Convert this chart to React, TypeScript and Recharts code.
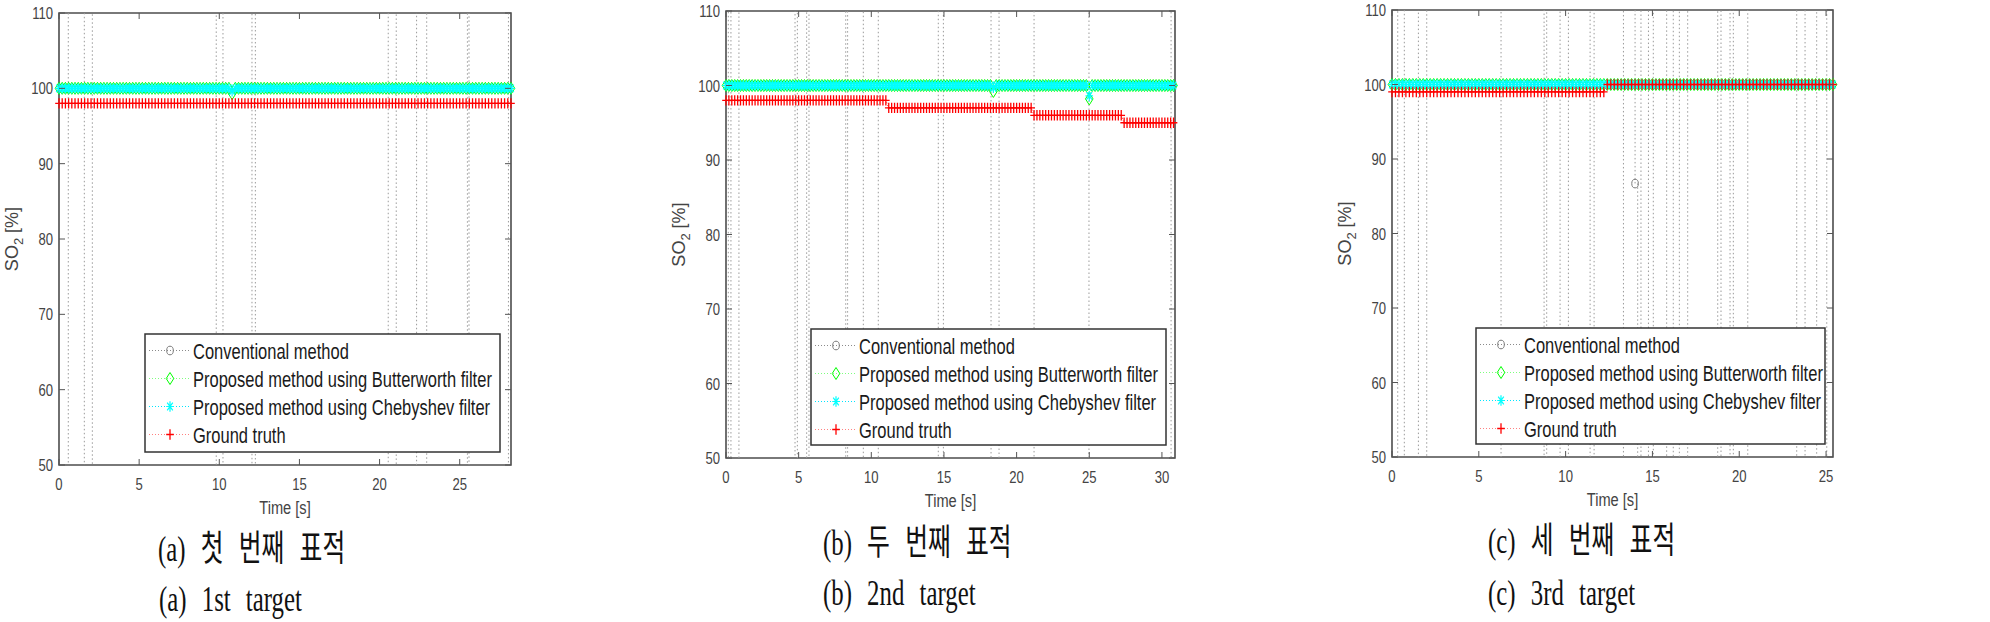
import React from "react";
import { LineChart, Line, XAxis, YAxis, ReferenceArea } from "recharts";

// SO2 estimates vs time, three targets. Samples every 0.2 s.
const SAMPLE_STEP = 0.2;
const Y_TICKS = [50, 60, 70, 80, 90, 100, 110];

// (a) 1st target
const durationA = 28.2;
const xTicksA = [0, 5, 10, 15, 20, 25];
const truthStepsA: [number, number][] = [[0, 98]];
const butterStepsA: [number, number][] = [[0, 100]];
const butterDipsA: [number, number][] = [[10.8, 99.3]];
const chebyStepsA: [number, number][] = [[0, 100]];
const chebyDipsA: [number, number][] = [[10.8, 99.6]];
// conventional method: mostly off the 50-110 scale, jumps across it
const conventionalA: [number, number][] = [
  [0, 130], [0.58, 30], [1.58, 130], [2.08, 30], [9.81, 130], [10.23, 30],
  [12.04, 130], [12.25, 30], [20.54, 130], [21.04, 30], [22.31, 130],
  [22.94, 30], [25.48, 130], [25.58, 30], [28.04, 130], [28.2, 130],
];

// (b) 2nd target
const durationB = 30.8;
const xTicksB = [0, 5, 10, 15, 20, 25, 30];
const truthStepsB: [number, number][] = [[0, 98], [11.2, 97], [21.2, 96], [27.4, 95]];
const butterStepsB: [number, number][] = [[0, 100]];
const butterDipsB: [number, number][] = [[18.4, 99.2], [25.0, 98.2]];
const chebyStepsB: [number, number][] = [[0, 100]];
const chebyDipsB: [number, number][] = [[18.4, 99.7], [25.0, 98.6]];
const conventionalB: [number, number][] = [
  [0, 30], [0.16, 130], [0.34, 30], [0.89, 130], [4.75, 30], [4.91, 130],
  [5.55, 30], [5.71, 130], [8.24, 30], [8.37, 130], [9.45, 30], [10.48, 130],
  [14.61, 30], [14.96, 130], [18.24, 30], [18.79, 130], [21.2, 30],
  [24.98, 130], [30.63, 30], [30.9, 30],
];

// (c) 3rd target
const durationC = 25.4;
const xTicksC = [0, 5, 10, 15, 20, 25];
const truthStepsC: [number, number][] = [[0, 99], [12.4, 100]];
const butterStepsC: [number, number][] = [[0, 100]];
const chebyStepsC: [number, number][] = [[0, 100]];
const conventionalC: [number, number][] = [
  [0, 130], [0.33, 30], [0.71, 130], [1.52, 30], [2.0, 130], [6.28, 30],
  [8.76, 130], [8.91, 30], [9.68, 130], [10.16, 30], [11.41, 130], [11.64, 30],
  [13.33, 130], [14.0, 86.7], [14.15, 30], [14.34, 130], [14.77, 30],
  [15.05, 130], [15.82, 30], [16.2, 130], [16.55, 30], [17.03, 130],
  [18.76, 30], [18.95, 130], [19.47, 30], [19.66, 130], [20.49, 30],
  [23.31, 130], [23.79, 30], [24.46, 130], [25.04, 30], [25.4, 30],
];

const LEGEND_LABELS = [
  "Conventional method",
  "Proposed method using Butterworth filter",
  "Proposed method using Chebyshev filter",
  "Ground truth",
];

const sans = "'Liberation Sans', Arial, sans-serif";
const serif = "'Liberation Serif', 'Noto Sans CJK KR', serif";

function sampleTimes(duration: number) {
  const n = Math.round(duration / SAMPLE_STEP);
  return Array.from({ length: n + 1 }, (_, i) => Math.round(i * SAMPLE_STEP * 100) / 100);
}

function expand(duration: number, steps: [number, number][], dips: [number, number][] = []) {
  return sampleTimes(duration).map((t) => {
    let v = steps[0][1];
    for (const [from, val] of steps) if (t >= from - 1e-9) v = val;
    const dip = dips.find(([dt]) => Math.abs(dt - t) < SAMPLE_STEP / 2);
    return { t, v: dip ? dip[1] : v };
  });
}

const toPoints = (pairs: [number, number][]) => pairs.map(([t, v]) => ({ t, v }));

// markers
const Ring = ({ cx, cy }: any) => (
  <ellipse cx={cx} cy={cy} rx={3.3} ry={4.3} fill="none" stroke="#7a7a7a" strokeWidth={1} />
);
const Diamond = ({ cx, cy }: any) => (
  <path d={`M${cx},${cy - 6} L${cx + 3.8},${cy} L${cx},${cy + 6} L${cx - 3.8},${cy} Z`} fill="none" stroke="#00ff00" strokeWidth={1} />
);
const Star = ({ cx, cy }: any) => (
  <path
    d={`M${cx},${cy - 5.2} V${cy + 5.2} M${cx - 3.8},${cy} H${cx + 3.8} M${cx - 2.8},${cy - 3.8} L${cx + 2.8},${cy + 3.8} M${cx + 2.8},${cy - 3.8} L${cx - 2.8},${cy + 3.8}`}
    stroke="#00ffff"
    strokeWidth={1.2}
    fill="none"
  />
);
const Plus = ({ cx, cy }: any) => (
  <path d={`M${cx},${cy - 5.2} V${cy + 5.2} M${cx - 3.8},${cy} H${cx + 3.8}`} stroke="#ff0000" strokeWidth={1.3} fill="none" />
);

const LEGEND_STYLE = [
  { color: "#8a8a8a", Marker: Ring },
  { color: "#7dff7d", Marker: Diamond },
  { color: "#00e5ff", Marker: Star },
  { color: "#ff8080", Marker: Plus },
];

const AXIS_W = 60;
const PAGE_H = 622;

type PanelProps = {
  plotLeft: number;
  plotTop: number;
  plotW: number;
  plotH: number;
  xMax: number;
  xTicks: number[];
  butter: { t: number; v: number }[];
  cheby: { t: number; v: number }[];
  truth: { t: number; v: number }[];
  conventional: { t: number; v: number }[];
};

function Panel(p: PanelProps) {
  const chartLeft = p.plotLeft - AXIS_W;
  const rightPad = 12;

  const yTick = (props: any) => {
    const { x, y, payload } = props;
    return (
      <g>
        <text
          transform={`translate(${x - 6},${y + 6}) scale(0.77,1)`}
          textAnchor="end"
          fontSize={17}
          fontFamily={sans}
          fill="#444"
        >
          {payload.value}
        </text>
        <line x1={x} x2={x + 6} y1={y} y2={y} stroke="#555" />
        <line x1={x + p.plotW - 6} x2={x + p.plotW} y1={y} y2={y} stroke="#555" />
      </g>
    );
  };

  const xTick = (props: any) => {
    const { x, y, payload } = props;
    return (
      <g>
        <text
          transform={`translate(${x},${y + 25}) scale(0.77,1)`}
          textAnchor="middle"
          fontSize={17}
          fontFamily={sans}
          fill="#444"
        >
          {payload.value}
        </text>
        <line x1={x} x2={x} y1={y} y2={y - 6} stroke="#555" />
        <line x1={x} x2={x} y1={y - p.plotH} y2={y - p.plotH + 6} stroke="#555" />
      </g>
    );
  };

  const xLabel = (props: any) => {
    const vb = props.viewBox;
    return (
      <text
        transform={`translate(${vb.x + vb.width / 2},${vb.y + 49}) scale(0.77,1)`}
        textAnchor="middle"
        fontSize={19}
        fontFamily={sans}
        fill="#444"
      >
        Time [s]
      </text>
    );
  };

  const yLabel = (props: any) => {
    const vb = props.viewBox;
    return (
      <text
        transform={`translate(${vb.x + vb.width - 41},${vb.y + vb.height / 2}) rotate(-90)`}
        textAnchor="middle"
        fontSize={18}
        fontFamily={sans}
        fill="#444"
      >
        SO
        <tspan fontSize={13} dy={5}>2</tspan>
        <tspan dy={-5}> [%]</tspan>
      </text>
    );
  };

  const convDot = (props: any) => {
    const v = props.payload?.v;
    if (v == null || v < 50 || v > 110) return <g key={props.index} />;
    return <Ring key={props.index} cx={props.cx} cy={props.cy} />;
  };

  return (
    <div style={{ position: "absolute", left: chartLeft, top: 0 }}>
      <LineChart
        width={AXIS_W + p.plotW + rightPad}
        height={PAGE_H}
        margin={{ top: p.plotTop, right: rightPad, left: 0, bottom: 0 }}
      >
        <XAxis
          type="number"
          dataKey="t"
          domain={[0, p.xMax]}
          ticks={p.xTicks}
          interval={0}
          tickSize={0}
          tickMargin={0}
          axisLine={false}
          tickLine={false}
          tick={xTick}
          height={PAGE_H - p.plotTop - p.plotH}
          label={xLabel}
        />
        <YAxis
          type="number"
          domain={[50, 110]}
          ticks={Y_TICKS}
          interval={0}
          width={AXIS_W}
          tickSize={0}
          tickMargin={0}
          axisLine={false}
          tickLine={false}
          tick={yTick}
          label={yLabel}
        />
        <YAxis yAxisId="conv" hide type="number" domain={[50, 110]} allowDataOverflow />
        <ReferenceArea x1={0} x2={p.xMax} y1={50} y2={110} fill="none" stroke="#4d4d4d" strokeWidth={1.6} />
        <Line
          yAxisId="conv"
          data={p.conventional}
          dataKey="v"
          type="stepAfter"
          stroke="#9a9a9a"
          strokeWidth={1}
          strokeDasharray="1.5 2.5"
          dot={convDot}
          activeDot={false}
          isAnimationActive={false}
        />
        <Line
          data={p.butter}
          dataKey="v"
          stroke="#00ff00"
          strokeDasharray="1 2"
          dot={(d: any) => <Diamond key={d.index} cx={d.cx} cy={d.cy} />}
          activeDot={false}
          isAnimationActive={false}
        />
        <Line
          data={p.cheby}
          dataKey="v"
          stroke="#00ffff"
          strokeDasharray="1 2"
          dot={(d: any) => <Star key={d.index} cx={d.cx} cy={d.cy} />}
          activeDot={false}
          isAnimationActive={false}
        />
        <Line
          data={p.truth}
          dataKey="v"
          stroke="#ff0000"
          strokeDasharray="1 2"
          dot={(d: any) => <Plus key={d.index} cx={d.cx} cy={d.cy} />}
          activeDot={false}
          isAnimationActive={false}
        />
      </LineChart>
    </div>
  );
}

function LegendBox({ x, y, w, h }: { x: number; y: number; w: number; h: number }) {
  return (
    <svg style={{ position: "absolute", left: x - 1, top: y - 1 }} width={w + 2} height={h + 2}>
      <rect x={1} y={1} width={w} height={h} fill="#fff" stroke="#333" strokeWidth={1.5} />
      {LEGEND_LABELS.map((label, i) => {
        const cy = 1 + 16.5 + i * 28;
        const { color, Marker } = LEGEND_STYLE[i];
        return (
          <g key={label}>
            <line x1={5} x2={46} y1={cy} y2={cy} stroke={color} strokeDasharray="1 2" />
            <Marker cx={26} cy={cy} />
            <text
              transform={`translate(49,${cy + 8}) scale(0.75,1)`}
              fontSize={22}
              fontFamily={sans}
              fill="#1a1a1a"
            >
              {label}
            </text>
          </g>
        );
      })}
    </svg>
  );
}

function Caption({ x, y, text }: { x: number; y: number; text: string }) {
  return (
    <text
      transform={`translate(${x},${y}) scale(0.69,1)`}
      fontSize={36}
      fontFamily={serif}
      fill="#111"
      wordSpacing={13}
    >
      {text}
    </text>
  );
}

export default function App() {
  return (
    <div style={{ position: "absolute", left: 0, top: 0, width: 1990, height: PAGE_H, background: "#fff", overflow: "hidden" }}>
      <Panel
        plotLeft={59}
        plotTop={13}
        plotW={452}
        plotH={452}
        xMax={durationA}
        xTicks={xTicksA}
        butter={expand(durationA, butterStepsA, butterDipsA)}
        cheby={expand(durationA, chebyStepsA, chebyDipsA)}
        truth={expand(durationA, truthStepsA)}
        conventional={toPoints(conventionalA)}
      />
      <Panel
        plotLeft={726}
        plotTop={11}
        plotW={449}
        plotH={447}
        xMax={30.9}
        xTicks={xTicksB}
        butter={expand(durationB, butterStepsB, butterDipsB)}
        cheby={expand(durationB, chebyStepsB, chebyDipsB)}
        truth={expand(durationB, truthStepsB)}
        conventional={toPoints(conventionalB)}
      />
      <Panel
        plotLeft={1392}
        plotTop={10}
        plotW={441}
        plotH={447}
        xMax={durationC}
        xTicks={xTicksC}
        butter={expand(durationC, butterStepsC)}
        cheby={expand(durationC, chebyStepsC)}
        truth={expand(durationC, truthStepsC)}
        conventional={toPoints(conventionalC)}
      />
      <LegendBox x={145} y={334} w={355} h={118} />
      <LegendBox x={811} y={329} w={355} h={116} />
      <LegendBox x={1476} y={328} w={349} h={116} />
      <svg style={{ position: "absolute", left: 0, top: 0 }} width={1990} height={PAGE_H} pointerEvents="none">
        <Caption x={158} y={561} text="(a) 첫 번째 표적" />
        <Caption x={159} y={611} text="(a) 1st target" />
        <Caption x={823} y={555} text="(b) 두 번째 표적" />
        <Caption x={823} y={605} text="(b) 2nd target" />
        <Caption x={1488} y={553} text="(c) 세 번째 표적" />
        <Caption x={1488} y={605} text="(c) 3rd target" />
      </svg>
    </div>
  );
}
